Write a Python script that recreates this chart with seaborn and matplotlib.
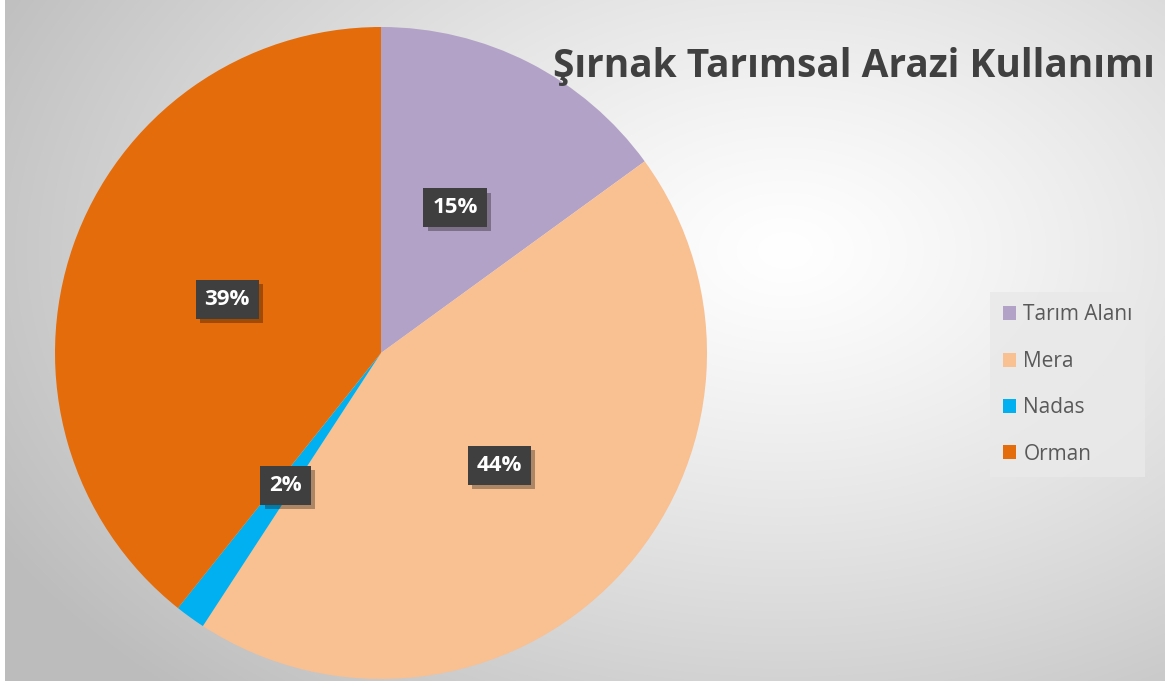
import numpy as np
import matplotlib
matplotlib.use("Agg")
import matplotlib.pyplot as plt
import matplotlib.patheffects as pe
import seaborn as sns

sns.set_theme(style="white")
plt.rcParams['font.family'] = ['Open Sans', 'DejaVu Sans']

categories = ["Tarım Alanı", "Mera", "Nadas", "Orman"]
values = [15.0, 44.2, 1.5, 39.3]
colors = ["#b3a2c7", "#f9c091", "#00b0f0", "#e46c0a"]
title = "Şırnak Tarımsal Arazi Kullanımı"

W, H = 1169, 691
fig = plt.figure(figsize=(W / 100, H / 100), dpi=100)
fig.patch.set_facecolor("white")

# background with radial gradient
bg = fig.add_axes([5 / W, 10 / H, 1160 / W, 681 / H])
yy, xx = np.mgrid[0:681, 0:1160]
d = np.sqrt(((xx - 780) / 900) ** 2 + ((yy - 250) / 600) ** 2)
g = 1.0 - 0.26 * np.clip(d, 0, 1) ** 1.2
img = np.dstack([g, g, g])
bg.imshow(img, aspect="auto", interpolation="bilinear")
bg.set_axis_off()

# pie
cx, cy, r = 381, 353, 326
ax = fig.add_axes([(cx - r) / W, (H - cy - r) / H, 2 * r / W, 2 * r / H])
wedges, _, autotexts = ax.pie(values, colors=colors, startangle=90, counterclock=False,
                              radius=1.0, autopct=lambda p: f"{p:.0f}%", pctdistance=0.5,
                              wedgeprops=dict(linewidth=0))
ax.set_xlim(-1, 1)
ax.set_ylim(-1, 1)
ax.set_aspect("auto")
ax.set_axis_off()
for t in autotexts:
    t.set_fontsize(16)
    t.set_fontweight("bold")
    t.set_color("white")
    t.set_bbox(dict(boxstyle="square,pad=0.4", fc="#3f3f3f", ec="none"))
    t.get_bbox_patch().set_path_effects([
        pe.SimplePatchShadow(offset=(3, -3), shadow_rgbFace="black", alpha=0.3),
        pe.Normal()])

# title
fig.text(1155 / W, (H - 66) / H, title, ha="right", va="center", fontsize=28,
         fontweight="bold", color="#404040")

# legend
leg = fig.legend(wedges, categories, loc="upper left", bbox_to_anchor=(990 / W, (H - 292) / H),
                 frameon=True, fontsize=15, labelcolor="#595959", handlelength=0.65,
                 handleheight=0.65, handletextpad=0.35, labelspacing=1.22, borderpad=0.6,
                 fancybox=False, borderaxespad=0)
leg.get_frame().set_facecolor("#e9e9e9")
leg.get_frame().set_edgecolor("none")
leg.get_frame().set_alpha(0.85)

fig.savefig("out.png", dpi=100)
